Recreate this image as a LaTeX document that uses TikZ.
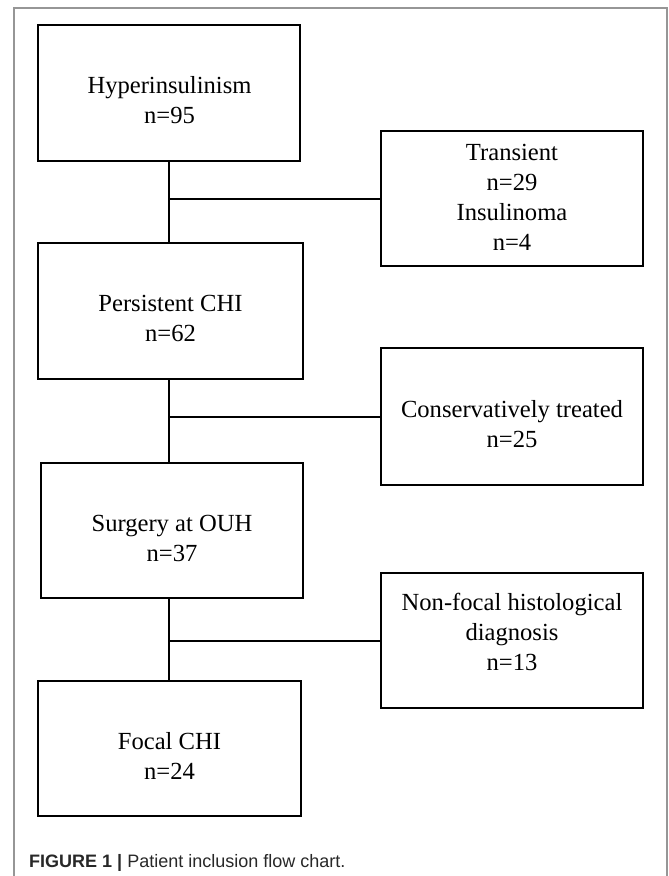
\documentclass[tikz,border=0pt]{standalone}
\usepackage{fontspec}
\setmainfont{Liberation Serif}
\newfontfamily\capfont{Liberation Sans}
\definecolor{framegray}{RGB}{150,150,150}
\definecolor{captxt}{RGB}{40,40,40}
\begin{document}
\begin{tikzpicture}[x=1pt,y=-1pt,
  flowbox/.style={draw=black, line width=2pt, minimum width=262pt, minimum height=136pt, inner sep=0pt, fill=white},
  boxtext/.style={align=center, inner sep=0pt, font=\fontsize{24.6}{30}\selectfont},
  link/.style={draw=black, line width=2pt}
]
\useasboundingbox (0,0) rectangle (669,876);
\fill[white] (0,0) rectangle (669,876);
% outer frame
\draw[framegray, line width=1.3pt] (14,876) -- (14,8) -- (667,8) -- (667,876);

% boxes
\node[flowbox] (hyp) at (169,93) {};
\node[flowbox, minimum width=265pt] (pers) at (170.5,311) {};
\node[flowbox, minimum height=135pt] (surg) at (172,530.5) {};
\node[flowbox, minimum width=263pt, minimum height=135pt] (focal) at (169.5,748.5) {};
\node[flowbox, minimum height=135pt] (trans) at (512,198.5) {};
\node[flowbox, minimum height=137pt] (cons) at (512,416.5) {};
\node[flowbox, minimum height=135pt] (nonf) at (512,640.5) {};

% texts
\node[boxtext] (hypt) at (169.5,100) {Hyperinsulinism\\n=95};
\node[boxtext] (perst) at (170.5,318) {Persistent CHI\\n=62};
\node[boxtext] (surgt) at (172,538) {Surgery at OUH\\n=37};
\node[boxtext] (focalt) at (169.5,755.5) {Focal CHI\\n=24};
\node[boxtext] (transt) at (512,197) {Transient\\n=29\\Insulinoma\\n=4};
\node[boxtext] (const) at (512,424) {Conservatively treated\\n=25};
\node[boxtext] (nonft) at (512,632) {Non-focal histological\\diagnosis\\n=13};

% connectors
\coordinate (c1) at (169,161);
\coordinate (c2) at (169,379);
\coordinate (c3) at (169,598);
\draw[link] (c1) -- (c1 |- pers.north);
\draw[link] (c1 |- trans.west) -- (trans.west);
\draw[link] (c2) -- (c2 |- surg.north);
\draw[link] (c2 |- cons.west) -- (cons.west);
\draw[link] (c3) -- (c3 |- focal.north);
\draw[link] (c3 |- nonf.west) -- (nonf.west);

% caption
\node[anchor=base west, inner sep=0pt, text=captxt, font=\capfont\fontsize{18}{22}\selectfont] (cap) at (29,867) {\textbf{FIGURE 1} \textbf{|} Patient inclusion flow chart.};
\end{tikzpicture}
\end{document}
